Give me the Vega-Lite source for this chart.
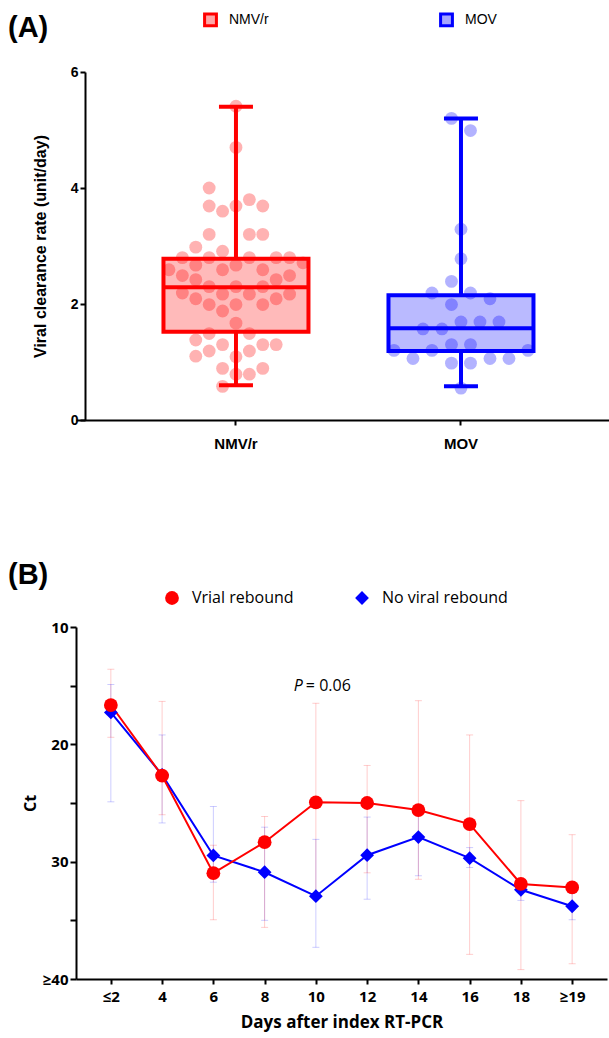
{
  "$schema": "https://vega.github.io/schema/vega-lite/v6.json",
  "background": "white",
  "padding": {"left": 8, "top": 12, "right": 0, "bottom": 4},
  "spacing": 110,
  "config": {
    "view": {"stroke": null},
    "font": "Liberation Sans",
    "axis": {"grid": false, "domainColor": "black", "tickColor": "black", "domainWidth": 2, "tickWidth": 2, "labelColor": "black", "titleColor": "black", "labelFontWeight": "bold", "titleFontWeight": "bold"}
  },
  "datasets": {
    "points": [
      {"group": "NMV/r", "jitter": 0, "rate": 5.41},
      {"group": "NMV/r", "jitter": 0, "rate": 4.70},
      {"group": "NMV/r", "jitter": -26.8, "rate": 4.00},
      {"group": "NMV/r", "jitter": -26.8, "rate": 3.69},
      {"group": "NMV/r", "jitter": -13.4, "rate": 3.60},
      {"group": "NMV/r", "jitter": 0, "rate": 3.69},
      {"group": "NMV/r", "jitter": 13.4, "rate": 3.80},
      {"group": "NMV/r", "jitter": 26.8, "rate": 3.69},
      {"group": "NMV/r", "jitter": -26.8, "rate": 3.20},
      {"group": "NMV/r", "jitter": 13.4, "rate": 3.20},
      {"group": "NMV/r", "jitter": 26.8, "rate": 3.20},
      {"group": "NMV/r", "jitter": -40.2, "rate": 2.98},
      {"group": "NMV/r", "jitter": -53.6, "rate": 2.80},
      {"group": "NMV/r", "jitter": -26.8, "rate": 2.80},
      {"group": "NMV/r", "jitter": -13.4, "rate": 2.91},
      {"group": "NMV/r", "jitter": 13.4, "rate": 2.80},
      {"group": "NMV/r", "jitter": 40.2, "rate": 2.80},
      {"group": "NMV/r", "jitter": 53.6, "rate": 2.80},
      {"group": "NMV/r", "jitter": 67, "rate": 2.71},
      {"group": "NMV/r", "jitter": -67, "rate": 2.59},
      {"group": "NMV/r", "jitter": -40.2, "rate": 2.67},
      {"group": "NMV/r", "jitter": -13.4, "rate": 2.59},
      {"group": "NMV/r", "jitter": 0, "rate": 2.67},
      {"group": "NMV/r", "jitter": 26.8, "rate": 2.59},
      {"group": "NMV/r", "jitter": 53.6, "rate": 2.49},
      {"group": "NMV/r", "jitter": -53.6, "rate": 2.49},
      {"group": "NMV/r", "jitter": -40.2, "rate": 2.42},
      {"group": "NMV/r", "jitter": -26.8, "rate": 2.30},
      {"group": "NMV/r", "jitter": 0, "rate": 2.30},
      {"group": "NMV/r", "jitter": 26.8, "rate": 2.30},
      {"group": "NMV/r", "jitter": 40.2, "rate": 2.42},
      {"group": "NMV/r", "jitter": -53.6, "rate": 2.19},
      {"group": "NMV/r", "jitter": -40.2, "rate": 2.09},
      {"group": "NMV/r", "jitter": -13.4, "rate": 2.17},
      {"group": "NMV/r", "jitter": 13.4, "rate": 2.17},
      {"group": "NMV/r", "jitter": 53.6, "rate": 2.17},
      {"group": "NMV/r", "jitter": 40.2, "rate": 2.09},
      {"group": "NMV/r", "jitter": -26.8, "rate": 1.99},
      {"group": "NMV/r", "jitter": 0, "rate": 1.99},
      {"group": "NMV/r", "jitter": 26.8, "rate": 1.99},
      {"group": "NMV/r", "jitter": -13.4, "rate": 1.88},
      {"group": "NMV/r", "jitter": 0, "rate": 1.67},
      {"group": "NMV/r", "jitter": -26.8, "rate": 1.49},
      {"group": "NMV/r", "jitter": 13.4, "rate": 1.49},
      {"group": "NMV/r", "jitter": -40.2, "rate": 1.38},
      {"group": "NMV/r", "jitter": -13.4, "rate": 1.30},
      {"group": "NMV/r", "jitter": 26.8, "rate": 1.30},
      {"group": "NMV/r", "jitter": 40.2, "rate": 1.30},
      {"group": "NMV/r", "jitter": -40.2, "rate": 1.10},
      {"group": "NMV/r", "jitter": -26.8, "rate": 1.19},
      {"group": "NMV/r", "jitter": 0, "rate": 1.09},
      {"group": "NMV/r", "jitter": 13.4, "rate": 1.19},
      {"group": "NMV/r", "jitter": -13.4, "rate": 0.89},
      {"group": "NMV/r", "jitter": 0, "rate": 0.79},
      {"group": "NMV/r", "jitter": 13.4, "rate": 0.79},
      {"group": "NMV/r", "jitter": 26.8, "rate": 0.89},
      {"group": "NMV/r", "jitter": -13.4, "rate": 0.58},
      {"group": "MOV", "jitter": -9.5, "rate": 5.20},
      {"group": "MOV", "jitter": 9.5, "rate": 4.99},
      {"group": "MOV", "jitter": 0, "rate": 3.29},
      {"group": "MOV", "jitter": 0, "rate": 2.78},
      {"group": "MOV", "jitter": -9.5, "rate": 2.39},
      {"group": "MOV", "jitter": -29, "rate": 2.19},
      {"group": "MOV", "jitter": 9.5, "rate": 2.19},
      {"group": "MOV", "jitter": 29, "rate": 2.09},
      {"group": "MOV", "jitter": -9.5, "rate": 1.99},
      {"group": "MOV", "jitter": -38, "rate": 1.57},
      {"group": "MOV", "jitter": -19, "rate": 1.57},
      {"group": "MOV", "jitter": 0, "rate": 1.69},
      {"group": "MOV", "jitter": 19, "rate": 1.69},
      {"group": "MOV", "jitter": 38, "rate": 1.69},
      {"group": "MOV", "jitter": -9.5, "rate": 1.30},
      {"group": "MOV", "jitter": 9.5, "rate": 1.30},
      {"group": "MOV", "jitter": -67, "rate": 1.20},
      {"group": "MOV", "jitter": -29, "rate": 1.20},
      {"group": "MOV", "jitter": 67, "rate": 1.20},
      {"group": "MOV", "jitter": -48, "rate": 1.06},
      {"group": "MOV", "jitter": 29, "rate": 1.06},
      {"group": "MOV", "jitter": 48, "rate": 1.06},
      {"group": "MOV", "jitter": -9.5, "rate": 0.98},
      {"group": "MOV", "jitter": 9.5, "rate": 0.98},
      {"group": "MOV", "jitter": 0, "rate": 0.55}
    ],
    "stats": [
      {"group": "NMV/r", "min": 0.6, "q1": 1.52, "median": 2.29, "q3": 2.78, "max": 5.4},
      {"group": "MOV", "min": 0.58, "q1": 1.19, "median": 1.58, "q3": 2.15, "max": 5.2}
    ],
    "ct": [
      {"group": "No viral rebound", "day": "≤2", "ct": 17.28, "lo": 14.9, "hi": 24.9},
      {"group": "No viral rebound", "day": "4", "ct": 22.6, "lo": 19.2, "hi": 26.7},
      {"group": "No viral rebound", "day": "6", "ct": 29.47, "lo": 25.3, "hi": 31.75},
      {"group": "No viral rebound", "day": "8", "ct": 30.9, "lo": 27.06, "hi": 35.0},
      {"group": "No viral rebound", "day": "10", "ct": 32.94, "lo": 28.1, "hi": 37.3},
      {"group": "No viral rebound", "day": "12", "ct": 29.45, "lo": 26.2, "hi": 33.2},
      {"group": "No viral rebound", "day": "14", "ct": 27.9, "lo": 26.0, "hi": 31.2},
      {"group": "No viral rebound", "day": "16", "ct": 29.7, "lo": 28.8, "hi": 30.5},
      {"group": "No viral rebound", "day": "18", "ct": 32.4, "lo": 31.6, "hi": 33.3},
      {"group": "No viral rebound", "day": "≥19", "ct": 33.8, "lo": 32.7, "hi": 34.95},
      {"group": "Vrial rebound", "day": "≤2", "ct": 16.65, "lo": 13.6, "hi": 19.4},
      {"group": "Vrial rebound", "day": "4", "ct": 22.67, "lo": 16.34, "hi": 26.0},
      {"group": "Vrial rebound", "day": "6", "ct": 30.98, "lo": 28.6, "hi": 34.95},
      {"group": "Vrial rebound", "day": "8", "ct": 28.34, "lo": 26.15, "hi": 35.6},
      {"group": "Vrial rebound", "day": "10", "ct": 24.94, "lo": 16.5, "hi": 33.0},
      {"group": "Vrial rebound", "day": "12", "ct": 25.0, "lo": 21.8, "hi": 30.95},
      {"group": "Vrial rebound", "day": "14", "ct": 25.6, "lo": 16.28, "hi": 31.5},
      {"group": "Vrial rebound", "day": "16", "ct": 26.8, "lo": 19.2, "hi": 37.9},
      {"group": "Vrial rebound", "day": "18", "ct": 31.9, "lo": 24.8, "hi": 39.2},
      {"group": "Vrial rebound", "day": "≥19", "ct": 32.2, "lo": 27.7, "hi": 38.7}
    ],
    "note": [{"label": "P = 0.06"}]
  },
  "vconcat": [
    {
      "title": {"text": "(A)", "anchor": "start", "frame": "group", "dx": -68, "fontSize": 29, "font": "Liberation Sans", "fontWeight": "bold", "color": "black", "offset": 22},
      "width": 533,
      "height": 348,
      "layer": [
        {
          "data": {"name": "points"},
          "mark": {"type": "circle", "size": 165, "opacity": 0.3},
          "encoding": {
            "x": {"field": "group", "type": "nominal", "sort": ["NMV/r", "MOV"],
                  "scale": {"paddingInner": 0, "paddingOuter": 0.1844, "align": 0.572},
                  "axis": {"title": null, "labelAngle": 0, "labelFontSize": 15, "labelFont": "Liberation Sans", "tickSize": 5, "labelPadding": 11}},
            "xOffset": {"field": "jitter", "type": "quantitative", "scale": {"domain": [-112.5, 112.5]}},
            "y": {"field": "rate", "type": "quantitative", "scale": {"domain": [0, 6]},
                  "axis": {"title": "Viral clearance rate (unit/day)", "values": [0, 2, 4, 6], "format": "d", "offset": -9, "labelFont": "Liberation Sans", "titleFont": "Liberation Sans", "labelFontSize": 14, "titleFontSize": 16, "tickSize": 5, "labelPadding": 2, "titlePadding": 22}},
            "fill": {"field": "group", "type": "nominal", "scale": {"domain": ["NMV/r", "MOV"], "range": ["#ff0000", "#0000ff"]}}
          }
        },
        {
          "data": {"name": "stats"},
          "mark": {"type": "bar", "fillOpacity": 0.27, "strokeWidth": 4, "width": 145},
          "encoding": {
            "x": {"field": "group", "type": "nominal", "sort": ["NMV/r", "MOV"]},
            "y": {"field": "q1", "type": "quantitative"},
            "y2": {"field": "q3"},
            "fill": {"field": "group", "type": "nominal", "scale": {"domain": ["NMV/r", "MOV"], "range": ["#ff0000", "#0000ff"]},
                     "legend": {"orient": "none", "legendX": 127, "legendY": -60, "direction": "horizontal", "title": null, "symbolType": "square", "symbolSize": 140, "symbolStrokeWidth": 3, "labelFontSize": 14, "labelFont": "Liberation Sans", "labelOffset": 11, "columnPadding": 165, "padding": 0, "labelColor": "black",
                                "encode": {"symbols": {"update": {"fillOpacity": {"value": 0.35}, "strokeWidth": {"value": 3}}}}}},
            "stroke": {"field": "group", "type": "nominal", "scale": {"domain": ["NMV/r", "MOV"], "range": ["#ff0000", "#0000ff"]},
                     "legend": {"orient": "none", "legendX": 127, "legendY": -60, "direction": "horizontal", "title": null, "symbolType": "square", "symbolSize": 140, "symbolStrokeWidth": 3, "labelFontSize": 14, "labelFont": "Liberation Sans", "labelOffset": 11, "columnPadding": 165, "padding": 0, "labelColor": "black",
                                "encode": {"symbols": {"update": {"fillOpacity": {"value": 0.35}, "strokeWidth": {"value": 3}}}}}}
          }
        },
        {
          "data": {"name": "stats"},
          "mark": {"type": "rule", "strokeWidth": 4},
          "encoding": {
            "x": {"field": "group", "type": "nominal", "sort": ["NMV/r", "MOV"]},
            "y": {"field": "min", "type": "quantitative"},
            "y2": {"field": "q1"},
            "stroke": {"field": "group", "type": "nominal"}
          }
        },
        {
          "data": {"name": "stats"},
          "mark": {"type": "rule", "strokeWidth": 4},
          "encoding": {
            "x": {"field": "group", "type": "nominal", "sort": ["NMV/r", "MOV"]},
            "y": {"field": "q3", "type": "quantitative"},
            "y2": {"field": "max"},
            "stroke": {"field": "group", "type": "nominal"}
          }
        },
        {
          "data": {"name": "stats"},
          "mark": {"type": "tick", "size": 34, "thickness": 4, "orient": "horizontal", "opacity": 1},
          "encoding": {
            "x": {"field": "group", "type": "nominal", "sort": ["NMV/r", "MOV"]},
            "y": {"field": "min", "type": "quantitative"},
            "fill": {"field": "group", "type": "nominal"}
          }
        },
        {
          "data": {"name": "stats"},
          "mark": {"type": "tick", "size": 34, "thickness": 4, "orient": "horizontal", "opacity": 1},
          "encoding": {
            "x": {"field": "group", "type": "nominal", "sort": ["NMV/r", "MOV"]},
            "y": {"field": "max", "type": "quantitative"},
            "fill": {"field": "group", "type": "nominal"}
          }
        },
        {
          "data": {"name": "stats"},
          "mark": {"type": "tick", "size": 145, "thickness": 4, "orient": "horizontal", "opacity": 1},
          "encoding": {
            "x": {"field": "group", "type": "nominal", "sort": ["NMV/r", "MOV"]},
            "y": {"field": "median", "type": "quantitative"},
            "fill": {"field": "group", "type": "nominal"}
          }
        }
      ]
    },
    {
      "title": {"text": "(B)", "anchor": "start", "frame": "group", "dx": -68, "fontSize": 29, "font": "Liberation Sans", "fontWeight": "bold", "color": "black", "offset": 30},
      "width": 531,
      "height": 352,
      "data": {"name": "ct"},
      "layer": [
        {
          "mark": {"type": "rule", "strokeWidth": 1, "opacity": 0.2},
          "encoding": {
            "x": {"field": "day", "type": "ordinal", "sort": ["≤2", "4", "6", "8", "10", "12", "14", "16", "18", "≥19"],
                  "scale": {"type": "point", "padding": 0.68},
                  "axis": {"title": "Days after index RT-PCR", "labelAngle": 0, "labelFont": "Open Sans", "labelFontSize": 15, "titleFont": "Open Sans", "titleFontSize": 17, "tickSize": 5, "labelPadding": 5, "titlePadding": 10}},
            "y": {"field": "lo", "type": "quantitative", "scale": {"domain": [10, 40], "reverse": true},
                  "axis": {"title": "Ct", "values": [10, 15, 20, 25, 30, 35, 40], "labelExpr": "datum.value == 40 ? '≥40' : (datum.value % 10 == 0 ? datum.value : '')", "labelFont": "Open Sans", "labelFontSize": 15, "titleFont": "Open Sans", "titleFontSize": 16, "tickSize": 6, "labelPadding": 2, "titlePadding": 4}},
            "y2": {"field": "hi"},
            "color": {"field": "group", "type": "nominal", "scale": {"domain": ["Vrial rebound", "No viral rebound"], "range": ["#ff0000", "#0000ff"]}}
          }
        },
        {
          "mark": {"type": "tick", "size": 7, "thickness": 1, "orient": "horizontal", "opacity": 0.2},
          "encoding": {
            "x": {"field": "day", "type": "ordinal", "sort": ["≤2", "4", "6", "8", "10", "12", "14", "16", "18", "≥19"]},
            "y": {"field": "lo", "type": "quantitative"},
            "color": {"field": "group", "type": "nominal"}
          }
        },
        {
          "mark": {"type": "tick", "size": 7, "thickness": 1, "orient": "horizontal", "opacity": 0.2},
          "encoding": {
            "x": {"field": "day", "type": "ordinal", "sort": ["≤2", "4", "6", "8", "10", "12", "14", "16", "18", "≥19"]},
            "y": {"field": "hi", "type": "quantitative"},
            "color": {"field": "group", "type": "nominal"}
          }
        },
        {
          "mark": {"type": "line", "strokeWidth": 2},
          "encoding": {
            "x": {"field": "day", "type": "ordinal", "sort": ["≤2", "4", "6", "8", "10", "12", "14", "16", "18", "≥19"]},
            "y": {"field": "ct", "type": "quantitative"},
            "color": {"field": "group", "type": "nominal"}
          }
        },
        {
          "mark": {"type": "point", "filled": true, "opacity": 1, "size": 190},
          "encoding": {
            "x": {"field": "day", "type": "ordinal", "sort": ["≤2", "4", "6", "8", "10", "12", "14", "16", "18", "≥19"]},
            "y": {"field": "ct", "type": "quantitative"},
            "color": {"field": "group", "type": "nominal",
                      "legend": {"orient": "none", "legendX": 88, "legendY": 518, "direction": "horizontal", "title": null, "symbolSize": 190, "symbolOpacity": 1, "symbolStrokeWidth": 0, "labelFontSize": 16, "labelFont": "Open Sans", "labelOffset": 12, "columnPadding": 60, "padding": 0, "labelColor": "black",
                                 "encode": {"symbols": {"update": {"fill": {"signal": "datum.label == 'Vrial rebound' ? '#ff0000' : '#0000ff'"}, "opacity": {"value": 1}}}}}},
            "shape": {"field": "group", "type": "nominal", "scale": {"domain": ["Vrial rebound", "No viral rebound"], "range": ["circle", "diamond"]},
                      "legend": {"orient": "none", "legendX": 88, "legendY": 518, "direction": "horizontal", "title": null, "symbolSize": 190, "symbolOpacity": 1, "symbolStrokeWidth": 0, "labelFontSize": 16, "labelFont": "Open Sans", "labelOffset": 12, "columnPadding": 60, "padding": 0, "labelColor": "black",
                                 "encode": {"symbols": {"update": {"fill": {"signal": "datum.label == 'Vrial rebound' ? '#ff0000' : '#0000ff'"}, "opacity": {"value": 1}}}}}}
          }
        },
        {
          "data": {"name": "note"},
          "mark": {"type": "text", "text": "P", "fontStyle": "italic", "fontWeight": "normal", "align": "right", "dx": -13, "fontSize": 16, "font": "Open Sans", "color": "black"},
          "encoding": {"x": {"datum": "10", "type": "ordinal"}, "y": {"datum": 15, "type": "quantitative"}}
        },
        {
          "data": {"name": "note"},
          "mark": {"type": "text", "text": "= 0.06", "fontWeight": "normal", "align": "left", "dx": -10, "fontSize": 16, "font": "Open Sans", "color": "black"},
          "encoding": {"x": {"datum": "10", "type": "ordinal"}, "y": {"datum": 15, "type": "quantitative"}}
        }
      ]
    }
  ]
}
